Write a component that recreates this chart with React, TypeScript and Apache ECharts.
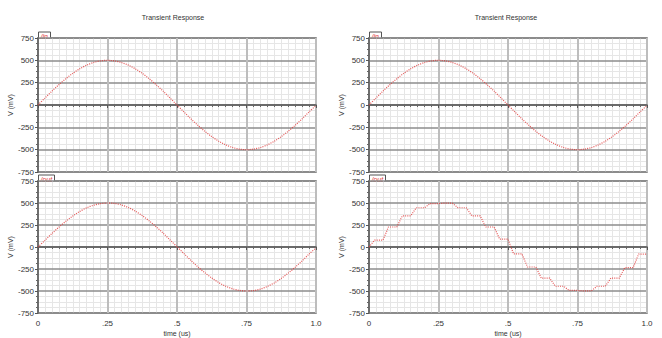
import React, { useEffect, useRef } from "react";
import * as echarts from "echarts";

// time axis samples (us)
const timeSamples = [
  0, 0.025, 0.05, 0.075, 0.1, 0.125, 0.15, 0.175, 0.2, 0.225, 0.25, 0.275, 0.3, 0.325, 0.35, 0.375, 0.4,
  0.425, 0.45, 0.475, 0.5, 0.525, 0.55, 0.575, 0.6, 0.625, 0.65, 0.675, 0.7, 0.725, 0.75, 0.775, 0.8,
  0.825, 0.85, 0.875, 0.9, 0.925, 0.95, 0.975, 1.0,
];
// /in (mV)
const inValues = [
  0, 78, 155, 227, 294, 354, 405, 446, 476, 494, 500, 494, 476, 446, 405, 354, 294, 227, 155, 78, 0,
  -78, -155, -227, -294, -354, -405, -446, -476, -494, -500, -494, -476, -446, -405, -354, -294, -227,
  -155, -78, -5,
];
// /out on the left panel (mV)
const outLeftValues = [
  0, 76, 153, 225, 292, 352, 404, 445, 475, 493, 500, 495, 478, 448, 408, 357, 297, 230, 158, 80, 3,
  -75, -152, -225, -292, -352, -404, -445, -475, -493, -500, -495, -478, -448, -408, -357, -297, -230,
  -158, -80, -10,
];
// /out on the right panel: staircase breakpoints (us) and levels (mV)
const stairTimes = [
  0, 0.02, 0.05, 0.07, 0.1, 0.12, 0.15, 0.17, 0.2, 0.22, 0.25, 0.27, 0.3, 0.32, 0.35, 0.37, 0.4, 0.42,
  0.45, 0.47, 0.5, 0.52, 0.55, 0.57, 0.6, 0.62, 0.65, 0.67, 0.7, 0.72, 0.75, 0.77, 0.8, 0.82, 0.85, 0.87,
  0.9, 0.92, 0.95, 0.97, 1.0,
];
const stairValues = [
  0, 78, 78, 227, 227, 354, 354, 446, 446, 494, 494, 498, 498, 446, 446, 354, 354, 227, 227, 90, 90,
  -78, -78, -227, -227, -354, -354, -446, -446, -494, -494, -498, -498, -446, -446, -354, -354, -235,
  -235, -80, -80,
];

const xTickLabels: Record<string, string> = { "0": "0", "0.25": ".25", "0.5": ".5", "0.75": ".75", "1": "1.0" };
const panelTitles = ["Transient Response", "Transient Response"];
const signalNames = ["/in", "/out"];

const FONT = "Liberation Sans";
const RED = "#e23b3b";

export default function App() {
  const ref = useRef<HTMLDivElement>(null);
  useEffect(() => {
    if (!ref.current) return;
    const chart = echarts.init(ref.current, null, { renderer: "svg" });
    const grids = [
      { left: 38, top: 38, width: 278, height: 134 },
      { left: 38, top: 181, width: 278, height: 135 },
      { left: 369, top: 38, width: 278, height: 134 },
      { left: 369, top: 181, width: 278, height: 135 },
    ];
    const hidden = {
      axisLine: { show: false },
      axisTick: { show: false },
      axisLabel: { show: false },
      splitLine: { show: false },
    };
    // minor-grid-only axes, drawn underneath
    const xMinor = grids.map((_, i) => ({
      type: "value", gridIndex: i, min: 0, max: 1, interval: 0.25, z: 0, ...hidden,
      minorTick: { show: false, splitNumber: 10 },
      minorSplitLine: { show: true, lineStyle: { color: "#e6e6e6", width: 1 } },
    }));
    const yMinor = grids.map((_, i) => ({
      type: "value", gridIndex: i, min: -750, max: 750, interval: 250, z: 0, ...hidden,
      minorTick: { show: false, splitNumber: 4 },
      minorSplitLine: { show: true, lineStyle: { color: "#e6e6e6", width: 1 } },
    }));
    const xMain = grids.map((_, i) => {
      const bottom = i === 1 || i === 3;
      return {
        type: "value",
        gridIndex: i,
        min: 0,
        max: 1,
        interval: 0.25,
        z: 1,
        name: bottom ? "time (us)" : "",
        nameLocation: "middle",
        nameGap: 17,
        nameTextStyle: { fontSize: 7, color: "#333", fontFamily: FONT },
        axisLine: { show: true, lineStyle: { color: "#555", width: 1.5 } },
        axisTick: { show: true, length: 3, lineStyle: { color: "#555" } },
        minorTick: { show: true, splitNumber: 10, length: 2, lineStyle: { color: "#666" } },
        axisLabel: {
          show: bottom,
          fontSize: 8,
          color: "#333",
          fontFamily: FONT,
          margin: 6,
          formatter: (v: number) => xTickLabels[String(v)] ?? String(v),
        },
        splitLine: { show: true, lineStyle: { color: "#bdbdbd", width: 2 } },
        minorSplitLine: { show: false },
      };
    });
    const yMain = grids.map((_, i) => ({
      type: "value",
      gridIndex: i,
      min: -750,
      max: 750,
      interval: 250,
      z: 1,
      name: "V (mV)",
      nameLocation: "middle",
      nameGap: 17,
      nameRotate: 90,
      nameTextStyle: { fontSize: 7, color: "#333", fontFamily: FONT },
      axisLine: { show: true, lineStyle: { color: "#555", width: 1.5 } },
      axisTick: { show: true, length: 3, lineStyle: { color: "#555" } },
      minorTick: { show: true, splitNumber: 4, length: 2, lineStyle: { color: "#666" } },
      axisLabel: { fontSize: 8, color: "#333", fontFamily: FONT, margin: 4 },
      splitLine: { show: true, lineStyle: { color: "#8c8c8c", width: 1.5 } },
      minorSplitLine: { show: false },
    }));
    const mk = (xs: number[], ys: number[]) => xs.map((t, k) => [t, ys[k]]);
    const lineStyle = { color: RED, width: 1.2, type: [1, 1.2] as any, opacity: 0.85 };
    const series = [
      { data: mk(timeSamples, inValues), smooth: 0.3, idx: 0 },
      { data: mk(timeSamples, outLeftValues), smooth: 0.3, idx: 1 },
      { data: mk(timeSamples, inValues), smooth: 0.3, idx: 2 },
      { data: mk(stairTimes, stairValues), smooth: false, idx: 3 },
    ].map((s) => ({
      type: "line",
      xAxisIndex: s.idx,
      yAxisIndex: s.idx,
      data: s.data,
      smooth: s.smooth,
      showSymbol: false,
      z: 10,
      lineStyle,
    }));
    const tab = (x: number, y: number, label: string, w: number) => ({
      type: "group",
      x,
      y,
      z: 100,
      children: [
        {
          type: "polyline",
          shape: { points: [[0, 6], [0, 0], [w, 0], [w, 6]] },
          style: { stroke: "#555", lineWidth: 1, fill: "#fff" },
        },
        {
          type: "text",
          x: 2,
          y: 0.5,
          style: { text: label, fontSize: 7, fill: RED, fontStyle: "italic", fontFamily: FONT },
        },
      ],
    });
    const graphic: any[] = [
      { type: "text", x: 173, y: 17, style: { text: panelTitles[0], fontSize: 7, fill: "#333", fontFamily: FONT, align: "center", verticalAlign: "middle" } },
      { type: "text", x: 506, y: 17, style: { text: panelTitles[1], fontSize: 7, fill: "#333", fontFamily: FONT, align: "center", verticalAlign: "middle" } },
      tab(38.5, 32, signalNames[0], 12),
      tab(38.5, 175, signalNames[1], 16),
      tab(369.5, 32, signalNames[0], 12),
      tab(369.5, 175, signalNames[1], 16),
    ];
    chart.setOption({
      animation: false,
      backgroundColor: "#fff",
      grid: grids.map((g) => ({ ...g, show: true, borderColor: "#666", borderWidth: 1.5, backgroundColor: "#fff" })),
      xAxis: [...xMain, ...xMinor],
      yAxis: [...yMain, ...yMinor],
      series,
      graphic,
    });
    return () => chart.dispose();
  }, []);
  return <div ref={ref} style={{ position: "absolute", left: 0, top: 0, width: 662, height: 338 }} />;
}
